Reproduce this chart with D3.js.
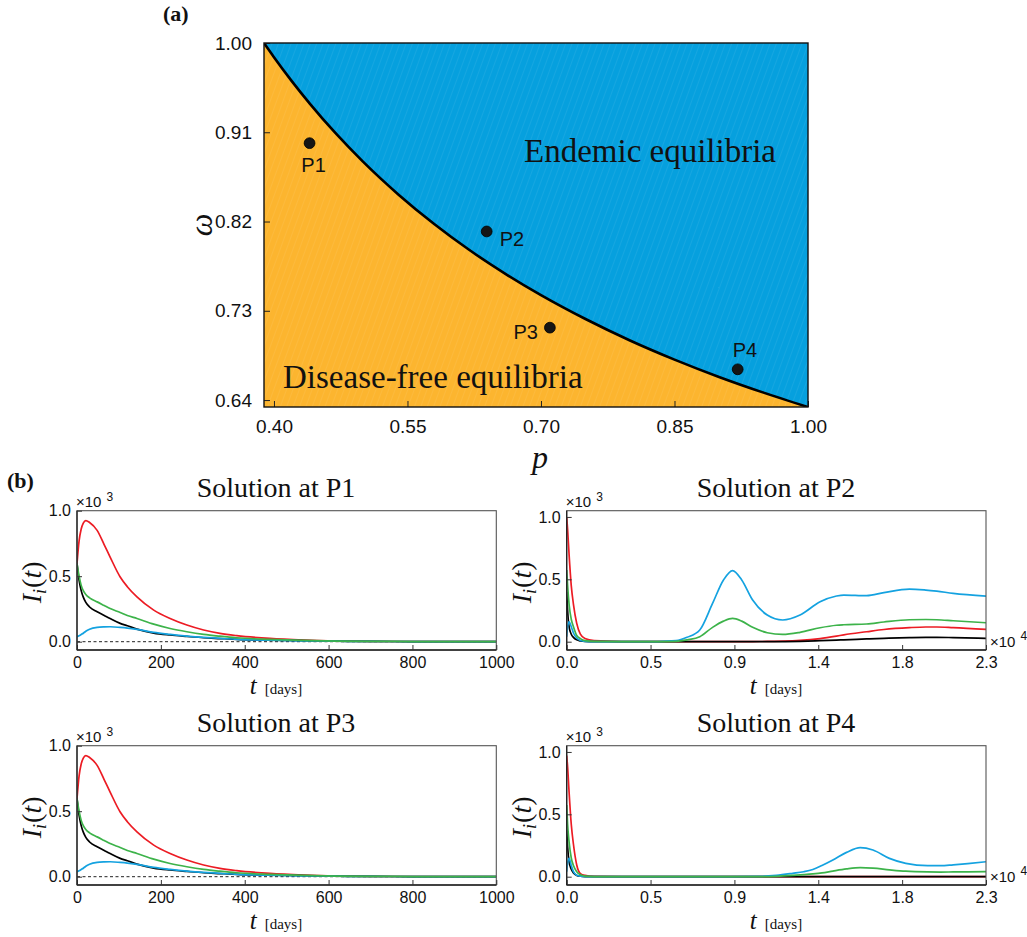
<!DOCTYPE html>
<html>
<head>
<meta charset="utf-8">
<script src="https://cdn.jsdelivr.net/npm/d3@7"></script>
<style>
  body { margin: 0; background: #fff; }
  svg { display: block; }
</style>
</head>
<body>
<svg id="fig" width="1027" height="937"></svg>
<script>
// ---------- Panel (a): equilibrium regions in the (p, ω) plane ----------
const pTicks = [0.40, 0.55, 0.70, 0.85, 1.00];
const omegaTicks = [0.64, 0.73, 0.82, 0.91, 1.00];

// threshold curve separating disease-free and endemic equilibria
const boundaryP     = [0.3888, 0.40, 0.42, 0.44, 0.47, 0.50, 0.54, 0.58, 0.62, 0.66, 0.70, 0.75, 0.80, 0.85, 0.90, 0.95, 1.00];
const boundaryOmega = [1.000, 0.9857, 0.9616, 0.9392, 0.9083, 0.8804, 0.8471, 0.8175, 0.7910, 0.7673, 0.7458, 0.7217, 0.7001, 0.6808, 0.6633, 0.6475, 0.6330];

const sampleNames = ["P1", "P2", "P3", "P4"];
const sampleP     = [0.440, 0.639, 0.710, 0.921];
const sampleOmega = [0.899, 0.810, 0.713, 0.671];

// ---------- Panel (b): infected compartments I_i(t) ----------
const shortTicks = [0, 200, 400, 600, 800, 1000];          // days
const longTicks  = [0, 0.46, 0.92, 1.38, 1.84, 2.3];       // ×10^4 days
const iTicks     = [0, 0.5, 1.0];                           // ×10^3

const seriesColors = { black: "#000000", red: "#ec1c24", blue: "#14a2e0", green: "#3db34a" };
const seriesOrder = ["red", "black", "blue", "green"];

// P1 (days)
const p1Time  = [0, 5, 10, 15, 21, 30, 48, 65, 79, 103, 120, 143, 183, 222, 262, 302, 341, 381, 460, 540, 620, 700, 800, 900, 1000];
const p1Red   = [0.596, 0.77, 0.86, 0.905, 0.925, 0.91, 0.85, 0.74, 0.646, 0.494, 0.42, 0.342, 0.241, 0.177, 0.127, 0.089, 0.063, 0.046, 0.025, 0.013, 0.006, 0.003, 0.001, 0.0005, 0];
const p1Green = [0.596, 0.50, 0.43, 0.39, 0.36, 0.335, 0.304, 0.276, 0.253, 0.223, 0.20, 0.177, 0.134, 0.101, 0.076, 0.056, 0.042, 0.030, 0.018, 0.010, 0.005, 0.003, 0.001, 0, 0];
const p1Black = [0.596, 0.47, 0.39, 0.34, 0.30, 0.265, 0.228, 0.20, 0.177, 0.14, 0.122, 0.096, 0.066, 0.051, 0.040, 0.030, 0.024, 0.018, 0.012, 0.008, 0.004, 0.002, 0.001, 0, 0];
const p1Blue  = [0.038, 0.045, 0.055, 0.065, 0.08, 0.095, 0.109, 0.113, 0.114, 0.109, 0.104, 0.094, 0.071, 0.056, 0.043, 0.033, 0.026, 0.018, 0.011, 0.007, 0.004, 0.002, 0.001, 0, 0];

// P3 (days)
const p3Time  = [0, 5, 10, 15, 21, 30, 48, 65, 79, 103, 120, 143, 183, 222, 262, 302, 341, 381, 460, 540, 620, 700, 800, 900, 1000];
const p3Red   = [0.596, 0.77, 0.86, 0.905, 0.925, 0.91, 0.85, 0.74, 0.646, 0.494, 0.42, 0.342, 0.241, 0.177, 0.127, 0.089, 0.063, 0.046, 0.025, 0.013, 0.006, 0.003, 0.001, 0.0005, 0];
const p3Green = [0.596, 0.50, 0.43, 0.39, 0.36, 0.335, 0.304, 0.276, 0.253, 0.223, 0.20, 0.177, 0.134, 0.101, 0.076, 0.056, 0.042, 0.030, 0.018, 0.010, 0.005, 0.003, 0.001, 0, 0];
const p3Black = [0.596, 0.47, 0.39, 0.34, 0.30, 0.265, 0.228, 0.20, 0.177, 0.14, 0.122, 0.096, 0.066, 0.051, 0.040, 0.030, 0.024, 0.018, 0.012, 0.008, 0.004, 0.002, 0.001, 0, 0];
const p3Blue  = [0.038, 0.045, 0.055, 0.065, 0.08, 0.095, 0.109, 0.113, 0.114, 0.109, 0.104, 0.094, 0.071, 0.056, 0.043, 0.033, 0.026, 0.018, 0.011, 0.007, 0.004, 0.002, 0.001, 0, 0];

// P2 (×10^4 days)
const p2Time  = [0, 0.005, 0.013, 0.025, 0.037, 0.055, 0.075, 0.1, 0.15, 0.3, 0.5, 0.6, 0.66, 0.73, 0.8, 0.86, 0.91, 0.96, 1.02, 1.1, 1.185, 1.28, 1.39, 1.48, 1.52, 1.645, 1.74, 1.88, 1.97, 2.03, 2.12, 2.3];
const p2Blue  = [0.04, 0.12, 0.16, 0.12, 0.07, 0.03, 0.01, 0.003, 0.001, 0, 0.001, 0.008, 0.035, 0.094, 0.307, 0.495, 0.57, 0.495, 0.334, 0.214, 0.174, 0.214, 0.32, 0.366, 0.374, 0.369, 0.393, 0.422, 0.414, 0.405, 0.388, 0.366];
const p2Green = [0.575, 0.45, 0.30, 0.18, 0.12, 0.05, 0.025, 0.008, 0.002, 0, 0, 0.003, 0.015, 0.04, 0.115, 0.165, 0.187, 0.165, 0.115, 0.072, 0.058, 0.075, 0.112, 0.132, 0.136, 0.142, 0.158, 0.176, 0.178, 0.176, 0.168, 0.152];
const p2Red   = [1.0, 0.9, 0.7, 0.45, 0.3, 0.147, 0.06, 0.025, 0.008, 0.001, 0, 0, 0, 0, 0, 0, 0, 0, 0.001, 0.002, 0.004, 0.01, 0.025, 0.045, 0.055, 0.08, 0.098, 0.113, 0.118, 0.118, 0.113, 0.099];
const p2Black = [0.4, 0.25, 0.12, 0.06, 0.035, 0.015, 0.006, 0.002, 0, 0, 0, 0, 0, 0, 0, 0, 0, 0, 0, 0, 0.001, 0.003, 0.008, 0.013, 0.015, 0.022, 0.027, 0.033, 0.035, 0.035, 0.033, 0.027];

// P4 (×10^4 days)
const p4Time  = [0, 0.005, 0.013, 0.025, 0.037, 0.055, 0.075, 0.1, 0.15, 0.3, 0.6, 0.9, 1.06, 1.15, 1.24, 1.3, 1.35, 1.4, 1.46, 1.535, 1.61, 1.68, 1.77, 1.86, 1.98, 2.05, 2.12, 2.2, 2.3];
const p4Blue  = [0.04, 0.11, 0.147, 0.09, 0.04, 0.012, 0.004, 0.001, 0, 0, 0, 0, 0.002, 0.01, 0.027, 0.04, 0.058, 0.09, 0.134, 0.195, 0.233, 0.214, 0.147, 0.107, 0.088, 0.088, 0.095, 0.105, 0.12];
const p4Green = [0.575, 0.42, 0.28, 0.15, 0.09, 0.04, 0.015, 0.005, 0.001, 0, 0, 0, 0, 0.003, 0.01, 0.016, 0.022, 0.03, 0.045, 0.062, 0.072, 0.068, 0.055, 0.044, 0.038, 0.037, 0.038, 0.039, 0.04];
const p4Red   = [0.97, 0.88, 0.68, 0.42, 0.26, 0.094, 0.025, 0.01, 0.002, 0, 0, 0, 0, 0, 0, 0, 0, 0, 0, 0, 0, 0, 0, 0, 0, 0, 0, 0, 0];
const p4Black = [0.38, 0.24, 0.12, 0.06, 0.03, 0.01, 0.004, 0.001, 0, 0, 0, 0, 0, 0, 0, 0, 0, 0, 0, 0, 0, 0, 0, 0, 0, 0, 0, 0, 0];

const SERIF = "'Liberation Serif', 'Times New Roman', Times, serif";
const SANS = "'Liberation Sans', Arial, Helvetica, sans-serif";

const svg = d3.select("#fig");
const defs = svg.append("defs");

// faint diagonal sheen over the filled regions
const hatch = defs.append("pattern")
  .attr("id", "sheen").attr("patternUnits", "userSpaceOnUse")
  .attr("width", 6).attr("height", 6)
  .attr("patternTransform", "rotate(20)");
hatch.append("line").attr("x1", 0).attr("y1", 0).attr("x2", 0).attr("y2", 6)
  .attr("stroke", "#fff").attr("stroke-opacity", 0.13).attr("stroke-width", 1);

// ================= Panel (a) =================
const A = { left: 264, right: 808, top: 43, bottom: 407 };
const xP = d3.scaleLinear().domain([0.3888, 1.0]).range([A.left, A.right]);
const yW = d3.scaleLinear().domain([0.633, 1.0]).range([A.bottom, A.top]);

const ga = svg.append("g");
defs.append("clipPath").attr("id", "clipA").append("rect")
  .attr("x", A.left).attr("y", A.top).attr("width", A.right - A.left).attr("height", A.bottom - A.top);

const boundary = boundaryP.map((p, i) => [p, boundaryOmega[i]]);

// disease-free region (below the curve) fills the whole box first
ga.append("rect")
  .attr("x", A.left).attr("y", A.top).attr("width", A.right - A.left).attr("height", A.bottom - A.top)
  .attr("fill", "#fcb52f");

// endemic region above the threshold curve
const areaAbove = d3.area()
  .x(d => xP(d[0])).y0(yW(1.0)).y1(d => yW(d[1]))
  .curve(d3.curveMonotoneX);
ga.append("path").datum(boundary).attr("d", areaAbove)
  .attr("fill", "#06a0de").attr("clip-path", "url(#clipA)");

ga.append("rect")
  .attr("x", A.left).attr("y", A.top).attr("width", A.right - A.left).attr("height", A.bottom - A.top)
  .attr("fill", "url(#sheen)");

ga.append("path").datum(boundary)
  .attr("d", d3.line().x(d => xP(d[0])).y(d => yW(d[1])).curve(d3.curveMonotoneX))
  .attr("fill", "none").attr("stroke", "#000").attr("stroke-width", 2.6)
  .attr("clip-path", "url(#clipA)");

// region labels
ga.append("text").attr("x", 650).attr("y", 162).attr("text-anchor", "middle")
  .attr("font-family", SERIF).attr("font-size", 33).attr("fill", "#111")
  .text("Endemic equilibria");
ga.append("text").attr("x", 283).attr("y", 388)
  .attr("font-family", SERIF).attr("font-size", 33).attr("fill", "#111")
  .text("Disease-free equilibria");

// sample points
const labelOffsets = [[4, 29, "middle"], [13, 15, "start"], [-12, 11, "end"], [-5, -12, "start"]];
sampleNames.forEach((name, i) => {
  const cx = xP(sampleP[i]), cy = yW(sampleOmega[i]);
  ga.append("circle").attr("cx", cx).attr("cy", cy).attr("r", 5.4)
    .attr("fill", "#151515").attr("stroke", "#000").attr("stroke-width", 0.8);
  const o = labelOffsets[i];
  ga.append("text").attr("x", cx + o[0]).attr("y", cy + o[1])
    .attr("text-anchor", o[2]).attr("font-family", SANS).attr("font-size", 20).attr("fill", "#111")
    .text(name);
});

// axes of panel (a): inward ticks on the bottom and left
const axA = svg.append("g").attr("font-family", SANS);
const xAxisA = d3.axisBottom(xP).tickValues(pTicks).tickFormat(d3.format(".2f")).tickSizeInner(-6).tickSizeOuter(0).tickPadding(13);
const yAxisA = d3.axisLeft(yW).tickValues(omegaTicks).tickFormat(d3.format(".2f")).tickSizeInner(-6).tickSizeOuter(0).tickPadding(12);
const gxa = axA.append("g").attr("transform", `translate(0,${A.bottom})`).call(xAxisA);
const gya = axA.append("g").attr("transform", `translate(${A.left},0)`).call(yAxisA);
[gxa, gya].forEach(g => {
  g.select(".domain").remove();
  g.selectAll("text").attr("font-size", 19).attr("fill", "#111").attr("font-family", SANS);
  g.selectAll("line").attr("stroke", "#222");
});
axA.append("rect")
  .attr("x", A.left).attr("y", A.top).attr("width", A.right - A.left).attr("height", A.bottom - A.top)
  .attr("fill", "none").attr("stroke", "#111").attr("stroke-width", 1.4);

svg.append("text").attr("x", 540).attr("y", 468).attr("text-anchor", "middle")
  .attr("font-family", SERIF).attr("font-style", "italic").attr("font-size", 32).attr("fill", "#111")
  .text("p");
svg.append("text").attr("transform", "translate(212,225) rotate(-90)").attr("text-anchor", "middle")
  .attr("font-family", SERIF).attr("font-style", "italic").attr("font-size", 32).attr("fill", "#111")
  .text("ω");

svg.append("text").attr("x", 163).attr("y", 21)
  .attr("font-family", SERIF).attr("font-weight", "bold").attr("font-size", 22).attr("fill", "#111")
  .text("(a)");
svg.append("text").attr("x", 7).attr("y", 488)
  .attr("font-family", SERIF).attr("font-weight", "bold").attr("font-size", 22).attr("fill", "#111")
  .text("(b)");

// ================= Panel (b) =================
const panels = [
  { title: "Solution at P1", left: 77,    top: 510.7, xDomain: [0, 1000], xTicks: shortTicks, xFmt: d3.format("d"),
    yTop: 1.0, dashed: true, expo: null, titleX: 276,
    time: p1Time, series: { black: p1Black, red: p1Red, blue: p1Blue, green: p1Green } },
  { title: "Solution at P2", left: 566.7, top: 510.7, xDomain: [0, 2.3], xTicks: longTicks, xFmt: d3.format(".1f"),
    yTop: 1.05, dashed: false, expo: "4", titleX: 776,
    time: p2Time, series: { black: p2Black, red: p2Red, blue: p2Blue, green: p2Green } },
  { title: "Solution at P3", left: 77,    top: 745.7, xDomain: [0, 1000], xTicks: shortTicks, xFmt: d3.format("d"),
    yTop: 1.0, dashed: true, expo: null, titleX: 276,
    time: p3Time, series: { black: p3Black, red: p3Red, blue: p3Blue, green: p3Green } },
  { title: "Solution at P4", left: 566.7, top: 745.7, xDomain: [0, 2.3], xTicks: longTicks, xFmt: d3.format(".1f"),
    yTop: 1.05, dashed: false, expo: "4", titleX: 776,
    time: p4Time, series: { black: p4Black, red: p4Red, blue: p4Blue, green: p4Green } }
];

const PW = 419.3, PH = 139.3;

panels.forEach((P, k) => {
  const g = svg.append("g");
  const x0 = P.left, y0 = P.top, x1 = x0 + PW, y1 = y0 + PH;
  const x = d3.scaleLinear().domain(P.xDomain).range([x0, x1]);
  // zero sits 8.3 px above the bottom edge
  const zeroY = y1 - 8.3;
  const y = d3.scaleLinear().domain([0, P.yTop]).range([zeroY, y0]);

  const clipId = "clipB" + k;
  defs.append("clipPath").attr("id", clipId).append("rect")
    .attr("x", x0).attr("y", y0).attr("width", PW).attr("height", PH);

  if (P.dashed) {
    g.append("line").attr("x1", x0).attr("x2", x1).attr("y1", y(0)).attr("y2", y(0))
      .attr("stroke", "#222").attr("stroke-width", 1).attr("stroke-dasharray", "3,2.5");
  }

  const line = d3.line().x((d, i) => x(P.time[i])).y(d => y(d)).curve(d3.curveMonotoneX);
  seriesOrder.forEach(name => {
    g.append("path").datum(P.series[name]).attr("d", line)
      .attr("fill", "none").attr("stroke", seriesColors[name]).attr("stroke-width", 1.7)
      .attr("stroke-linejoin", "round").attr("clip-path", `url(#${clipId})`);
  });

  // frame and axes
  g.append("rect").attr("x", x0).attr("y", y0).attr("width", PW).attr("height", PH)
    .attr("fill", "none").attr("stroke", "#555").attr("stroke-width", 1.1);

  const xAxis = d3.axisBottom(x).tickValues(P.xTicks).tickFormat(P.xFmt).tickSizeInner(-5).tickSizeOuter(0).tickPadding(7);
  const yAxis = d3.axisLeft(y).tickValues(iTicks).tickFormat(d3.format(".1f")).tickSizeInner(-5).tickSizeOuter(0).tickPadding(6);
  const gx = g.append("g").attr("transform", `translate(0,${y1})`).call(xAxis);
  const gy = g.append("g").attr("transform", `translate(${x0},0)`).call(yAxis);
  [gx, gy].forEach(a => {
    a.select(".domain").attr("stroke", "#222").attr("stroke-width", 1.3);
    a.selectAll("line").attr("stroke", "#333");
    a.selectAll("text").attr("font-family", SANS).attr("font-size", 16).attr("fill", "#111");
  });
  gy.select(".domain").attr("d", `M0,${y0}V${y1}`);
  gx.select(".domain").attr("d", `M${x0},0H${x1}`);

  // title
  g.append("text").attr("x", P.titleX).attr("y", y0 - 14).attr("text-anchor", "middle")
    .attr("font-family", SERIF).attr("font-size", 28).attr("fill", "#111").text(P.title);

  // ×10^3 multiplier on the y axis
  const my = g.append("text").attr("x", x0 - 1).attr("y", y0 - 4)
    .attr("font-family", SANS).attr("font-size", 15).attr("fill", "#111");
  my.append("tspan").text("×10");
  my.append("tspan").attr("dx", 5).attr("dy", -6).attr("font-size", 12).text("3");

  // ×10^4 multiplier on the long time axis
  if (P.expo) {
    const mx = g.append("text").attr("x", x1 + 4).attr("y", y1 - 3)
      .attr("font-family", SANS).attr("font-size", 15).attr("fill", "#111");
    mx.append("tspan").text("×10");
    mx.append("tspan").attr("dx", 5).attr("dy", -7).attr("font-size", 12).text(P.expo);
  }

  // y label I_i(t)
  const yl = g.append("text").attr("transform", `translate(${x0 - 36},${(y0 + y1) / 2 + 2}) rotate(-90)`)
    .attr("text-anchor", "middle").attr("font-family", SERIF).attr("font-size", 28).attr("fill", "#111");
  yl.append("tspan").attr("font-style", "italic").text("I");
  yl.append("tspan").attr("font-style", "italic").attr("font-size", 18).attr("dy", 5).text("i");
  yl.append("tspan").attr("dy", -5).attr("dx", 1).text("(");
  yl.append("tspan").attr("font-style", "italic").text("t");
  yl.append("tspan").text(")");

  // x label t [days]
  const xl = g.append("text").attr("x", P.titleX).attr("y", y1 + 44)
    .attr("text-anchor", "middle").attr("font-family", SERIF).attr("fill", "#111");
  xl.append("tspan").attr("font-style", "italic").attr("font-size", 25).text("t");
  xl.append("tspan").attr("dx", 8).attr("font-size", 15).text("[days]");
});
</script>
</body>
</html>
